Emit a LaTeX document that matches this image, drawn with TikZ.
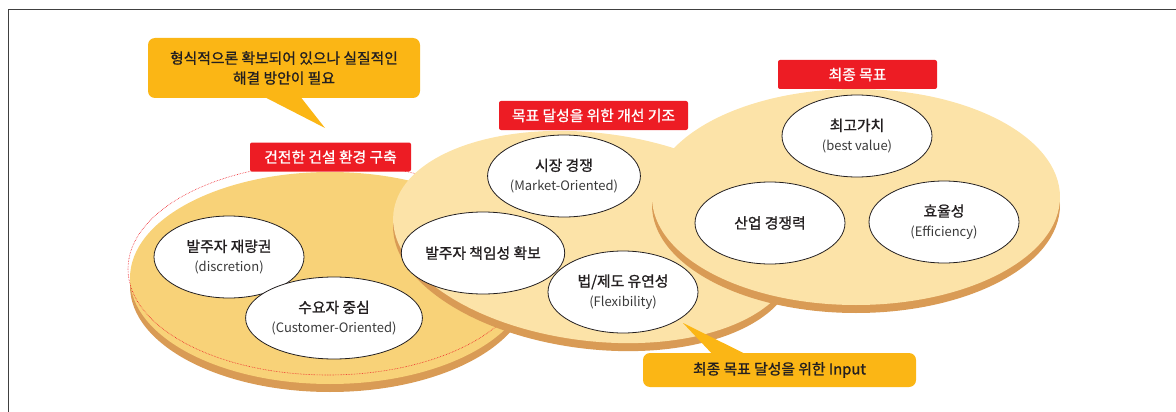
\documentclass[tikz,border=0pt]{standalone}
\usepackage{fontspec}
\setmainfont{Noto Sans CJK KR}
\newfontfamily\korfont{Noto Sans CJK KR}[FakeBold=1.1]
\usetikzlibrary{shapes.geometric, calc}

\definecolor{diskdeep}{HTML}{F8D278}
\definecolor{disklight}{HTML}{FCE3A8}
\definecolor{diskedge}{HTML}{D99B55}
\definecolor{tagred}{HTML}{ED1C24}
\definecolor{noteyellow}{HTML}{FBB615}
\definecolor{ink}{HTML}{231F20}
\definecolor{subink}{HTML}{3A3A3A}

\newcommand{\kor}{\korfont\fontsize{14.8}{17}\selectfont}
\newcommand{\eng}{\normalfont\fontsize{13}{15}\selectfont\color{subink}}

\tikzset{
  item/.style={ellipse, draw=ink, line width=0.8pt, fill=white, minimum width=150pt,
    minimum height=82pt, inner sep=0pt, align=center, text=ink, font=\kor},
  tag/.style={fill=tagred, rounded corners=2pt, text=white, font=\kor, inner sep=0pt,
    minimum height=29pt},
  note/.style={fill=noteyellow, rounded corners=7pt, text=ink, font=\kor, align=center,
    inner sep=0pt},
}

\begin{document}
\begin{tikzpicture}[x=1pt, y=-1pt]
    \useasboundingbox (0,0) rectangle (1176,412);

    % frame
    \draw[line width=1pt, black!75] (8,412) -- (8,10) -- (1176,10);

    % left disk with dotted outline
    \fill[diskedge] (330,286) ellipse (200 and 106);
    \fill[diskdeep] (330,278) ellipse (200 and 106);
    \draw[tagred, densely dotted, line width=0.6pt] (328,269) ellipse (200 and 106);

    % middle disk
    \fill[diskedge, rotate around={-7:(594,245)}] (594,245) ellipse (202 and 104);
    \fill[disklight, rotate around={-7:(594,237)}] (594,237) ellipse (202 and 104);

    % right disk
    \fill[diskedge] (856,205) ellipse (204 and 108);
    \fill[disklight] (856,197) ellipse (204 and 108);

    % items on the left disk
    \node[item] (discretion) at (229,257) {발주자 재량권\\[3pt]{\eng (discretion)}};
    \node[item] (customer) at (334,318) {수요자 중심\\[3pt]{\eng (Customer-Oriented)}};

    % items on the middle disk
    \node[item] (market) at (564,176) {시장 경쟁\\[3pt]{\eng (Market-Oriented)}};
    \node[item] (owner) at (483,253) {발주자 책임성 확보};
    \node[item] (flexibility) at (623,292) {법/제도 유연성\\[3pt]{\eng (Flexibility)}};

    % items on the right disk
    \node[item] (bestvalue) at (857,136) {최고가치\\[3pt]{\eng (best value)}};
    \node[item] (industry) at (770,223) {산업 경쟁력};
    \node[item] (efficiency) at (944,222) {효율성\\[3pt]{\eng (Efficiency)}};

    % red titles
    \node[tag, minimum width=161pt] (basetag) at (330.5,157) {건전한 건설 환경 구축};
    \node[tag, minimum width=189pt] (improvetag) at (593.5,115.5) {목표 달성을 위한 개선 기조};
    \node[tag, minimum width=159pt] (goaltag) at (857.5,74.5) {최종 목표};

    % upper callout
    \coordinate (gappoint) at (325,128);
    \node[note, minimum width=272pt, minimum height=60pt] (gapnote) at (284,68)
        {형식적으론 확보되어 있으나 실질적인\\[3pt]해결 방안이 필요};
    \fill[noteyellow] ($(gapnote.south)+(-21,-2)$) -- (gappoint)
        -- ($(gapnote.south)+(16,-2)$) -- cycle;

    % lower callout
    \coordinate (inputpoint) at (683,323);
    \node[note, minimum width=273pt, minimum height=34pt] (inputnote) at (779.5,370)
        {최종 목표 달성을 위한 Input};
    \fill[noteyellow] ($(inputnote.north)+(-66.5,2)$) -- (inputpoint)
        -- ($(inputnote.north)+(-32.5,2)$) -- cycle;

\end{tikzpicture}
\end{document}
